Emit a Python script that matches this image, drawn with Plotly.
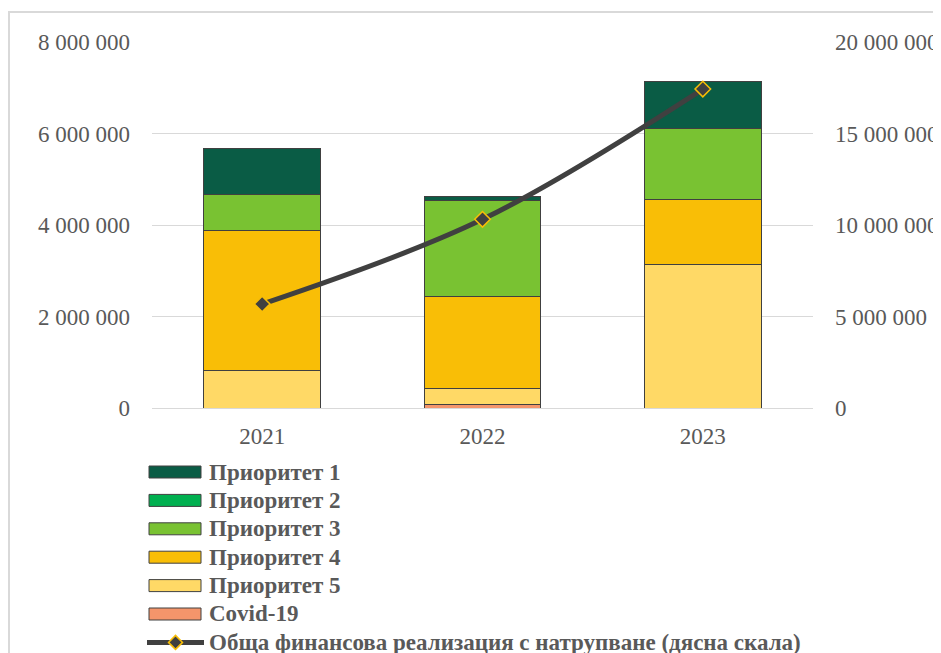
import plotly.graph_objects as go

years = ["2021", "2022", "2023"]

# amounts per priority (left scale)
covid = [0, 70000, 0]
prior5 = [830000, 350000, 3140000]
prior4 = [3060000, 2010000, 1410000]
prior3 = [770000, 2100000, 1560000]
prior2 = [0, 0, 0]
prior1 = [1020000, 100000, 1020000]

# cumulative financial realisation (right scale)
cumulative = [5680000, 10310000, 17430000]

line_name = "Обща финансова реализация с натрупване (дясна скала)"

GREY_TXT = "#595959"
SERIF = "Liberation Serif, Times New Roman, serif"
FS = 23

# stacking order bottom -> top
bars = [
    ("Covid-19", covid, "#F4956B"),
    ("Приоритет 5", prior5, "#FFD966"),
    ("Приоритет 4", prior4, "#F9BE06"),
    ("Приоритет 3", prior3, "#79C232"),
    ("Приоритет 2", prior2, "#00B050"),
    ("Приоритет 1", prior1, "#0A5C45"),
]

# plot area in page pixels (page has an 8px body margin)
PX0, PX1, PY0, PY1 = 152, 813, 42, 408


def px(x, y):
    return (x - PX0) / (PX1 - PX0), (PY1 - y) / (PY1 - PY0)


fig = go.Figure()
for name, vals, col in bars:
    fig.add_trace(go.Bar(
        x=years, y=vals, name=name, showlegend=False,
        marker=dict(color=col, line=dict(color="#404040", width=1)),
    ))

fig.add_trace(go.Scatter(
    x=years, y=cumulative, yaxis="y2", name=line_name, showlegend=False,
    mode="lines+markers", line=dict(color="#404040", width=5, shape="spline"),
    marker=dict(symbol="diamond", size=12, color="#404040",
                line=dict(color="#F9BE06", width=1.5)),
))

# hand-made legend (wide swatches like the original)
shapes = []
annotations = []
row_y = 472
for name, vals, col in reversed(bars):
    x0, y0 = px(149, row_y + 6)
    x1, y1 = px(201, row_y - 6)
    shapes.append(dict(type="rect", xref="paper", yref="paper",
                       x0=x0, x1=x1, y0=y0, y1=y1, fillcolor=col,
                       line=dict(color="#404040", width=1)))
    tx, ty = px(207, row_y)
    annotations.append(dict(text=name, xref="paper", yref="paper", x=tx, y=ty,
                            xanchor="left", yanchor="middle", showarrow=False,
                            font=dict(family=SERIF, size=FS, color=GREY_TXT,
                                      weight="bold")))
    row_y += 28.4

lx0, ly = px(147, row_y)
lx1, _ = px(204, row_y)
shapes.append(dict(type="line", xref="paper", yref="paper", x0=lx0, x1=lx1,
                   y0=ly, y1=ly, line=dict(color="#404040", width=5)))
cx, cy = 175.5, row_y
pts = [px(cx, cy - 7), px(cx + 7, cy), px(cx, cy + 7), px(cx - 7, cy)]
path = "M" + " L".join(f"{a},{b}" for a, b in pts) + " Z"
shapes.append(dict(type="path", xref="paper", yref="paper", path=path,
                   fillcolor="#404040", line=dict(color="#F9BE06", width=1.5)))
tx, ty = px(207, row_y)
annotations.append(dict(text=line_name, xref="paper", yref="paper", x=tx, y=ty,
                        xanchor="left", yanchor="middle", showarrow=False,
                        font=dict(family=SERIF, size=FS, color=GREY_TXT,
                                  weight="bold")))

# chart frame, cropped at right and bottom
fx0, fy1 = px(9, 12)
shapes.insert(0, dict(type="rect", xref="paper", yref="paper",
                      x0=fx0, x1=1.4, y0=-1.0, y1=fy1,
                      line=dict(color="#D9D9D9", width=2), layer="below"))

fig.update_layout(
    width=941, height=653,
    margin=dict(l=PX0 - 8, r=941 - (PX1 - 8), t=PY0 - 8, b=653 - (PY1 - 8)),
    barmode="stack", bargap=0.47,
    plot_bgcolor="white", paper_bgcolor="white",
    separators=", ",
    font=dict(family=SERIF, size=FS, color=GREY_TXT),
    showlegend=False,
    xaxis=dict(showgrid=False, showline=False, ticks="", ticklabelstandoff=12,
               tickfont=dict(family=SERIF, size=FS, color=GREY_TXT)),
    yaxis=dict(range=[0, 8000000], dtick=2000000, tickformat=",d",
               showgrid=True, gridcolor="#D9D9D9", gridwidth=1,
               zeroline=True, zerolinecolor="#D9D9D9", zerolinewidth=1,
               ticks="", ticklabelstandoff=21, automargin=False,
               tickfont=dict(family=SERIF, size=FS, color=GREY_TXT)),
    yaxis2=dict(range=[0, 20000000], dtick=5000000, tickformat=",d",
                overlaying="y", side="right", showgrid=False, zeroline=False,
                ticks="", ticklabelstandoff=21, automargin=False,
                tickfont=dict(family=SERIF, size=FS, color=GREY_TXT)),
    shapes=shapes,
    annotations=annotations,
)

fig.write_html("out.html")
